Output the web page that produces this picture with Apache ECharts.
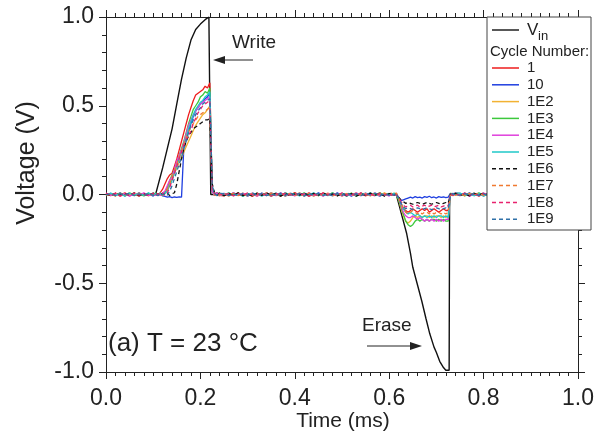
<!DOCTYPE html>
<html><head><meta charset="utf-8">
<script src="https://cdn.jsdelivr.net/npm/echarts@6/dist/echarts.min.js"></script>
<style>html,body{margin:0;padding:0;background:#fff}#c{width:601px;height:435px}</style>
</head><body><div id="c"></div>
<script>
// ---- time grid (ms) shared by the response curves ----
const T = [
 0,0.01,0.02,0.03,0.04,0.05,0.06,0.07,0.08,0.09,0.10,
 0.105,0.11,0.115,0.12,0.125,0.13,0.135,0.14,0.145,0.15,0.155,0.16,0.165,0.17,0.175,0.18,0.185,0.19,0.195,0.20,0.205,0.21,0.215,0.22,0.225,0.23,0.235,0.24,
 0.25,0.26,0.27,0.28,0.29,0.30,0.31,0.32,0.33,0.34,0.35,0.36,0.37,0.38,0.39,0.40,0.41,0.42,0.43,0.44,0.45,0.46,0.47,0.48,0.49,0.50,0.51,0.52,0.53,0.54,0.55,0.56,0.57,0.58,0.59,0.60,
 0.605,0.61,0.615,0.62,0.625,0.63,0.635,0.64,0.645,0.65,0.655,0.66,0.665,0.67,0.675,0.68,0.685,0.69,0.695,0.70,0.705,0.71,0.715,0.72,0.725,0.73,0.735,0.74,
 0.75,0.76,0.77,0.78,0.79,0.80,0.81,0.82,0.83,0.84,0.85,0.86,0.87,0.88,0.89,0.90,0.91,0.92,0.93,0.94,0.95,0.96,0.97,0.98,0.99,1.00
];

// ---- input voltage V_in ----
const vinT = [0,0.105,0.11,0.115,0.12,0.13,0.14,0.15,0.16,0.17,0.18,0.19,0.20,0.21,0.218,0.221,0.222,
              0.615,0.62,0.625,0.63,0.637,0.645,0.65,0.66,0.669,0.678,0.686,0.695,0.70,0.707,0.715,0.72,0.724,0.727,0.728,1.0];
const vinV = [0,0,0.05,0.1,0.15,0.26,0.37,0.51,0.65,0.77,0.87,0.93,0.96,0.985,1.0,1.0,0,
              0,-0.05,-0.1,-0.15,-0.22,-0.33,-0.41,-0.51,-0.6,-0.7,-0.785,-0.86,-0.89,-0.94,-0.975,-0.99,-1.0,-0.99,0,0];

// ---- cycle-number responses ----
const cycles = ['1','10','1E2','1E3','1E4','1E5','1E6','1E7','1E8','1E9'];

const s1 = [
 0.004,-0.006,0.008,-0.003,0.01,-0.008,0.005,-0.01,0.007,-0.004,0.006,
 0.005,0.0,0.01,0.03,0.06,0.09,0.11,0.12,0.16,0.2,0.25,0.3,0.35,0.4,0.45,0.49,0.53,0.56,0.57,0.58,0.59,0.61,0.6,0.63,0.02,0.0,0.01,-0.005,
 -0.008,0.006,-0.004,0.01,-0.007,0.005,-0.011,0.008,-0.003,0.009,-0.006,0.004,-0.009,0.007,-0.005,0.011,-0.004,0.006,-0.01,0.005,-0.007,0.009,-0.003,0.008,-0.006,0.004,-0.01,0.007,-0.005,0.009,-0.008,0.006,-0.004,0.01,-0.006,0.003,
 0.005,-0.004,0.008,-0.02,-0.05,-0.08,-0.09,-0.1,-0.09,-0.08,-0.09,-0.1,-0.09,-0.08,-0.09,-0.08,-0.1,-0.09,-0.08,-0.09,-0.1,-0.09,-0.08,-0.09,-0.09,0.005,-0.006,0.008,
 -0.005,0.008,-0.007,0.004,-0.01,0.006,-0.004,0.009,-0.006,0.005,-0.009,0.007,-0.003,0.01,-0.006,0.004,-0.008,0.006,-0.005,0.009,-0.004,0.007,-0.009,0.005,-0.006,0.004
];
const s10 = [
 -0.005,0.007,-0.003,0.009,-0.008,0.004,-0.006,0.01,-0.004,0.006,-0.009,
 0.004,-0.006,0.003,-0.008,-0.01,-0.015,-0.012,-0.018,-0.014,-0.016,-0.013,-0.015,0.27,0.32,0.36,0.4,0.44,0.47,0.49,0.51,0.52,0.54,0.55,0.57,0.02,-0.005,0.008,-0.004,
 0.007,-0.005,0.009,-0.004,0.006,-0.01,0.005,-0.007,0.008,-0.003,0.01,-0.006,0.004,-0.009,0.007,-0.005,0.008,-0.003,0.006,-0.008,0.01,-0.004,0.005,-0.007,0.009,-0.006,0.003,-0.009,0.007,-0.004,0.008,-0.006,0.005,-0.01,0.006,-0.003,
 -0.004,0.006,-0.003,-0.02,-0.035,-0.03,-0.025,-0.02,-0.015,-0.02,-0.012,-0.018,-0.015,-0.02,-0.012,-0.016,-0.01,-0.018,-0.014,-0.02,-0.012,-0.016,-0.014,-0.018,-0.015,0.006,-0.005,0.007,
 0.006,-0.004,0.009,-0.006,0.005,-0.008,0.007,-0.003,0.01,-0.005,0.004,-0.009,0.006,-0.004,0.008,-0.007,0.005,-0.003,0.009,-0.006,0.004,-0.008,0.007,-0.005,0.006,-0.004
];
const s1E2 = [
 0.006,-0.004,0.005,-0.009,0.007,-0.003,0.01,-0.006,0.004,-0.008,0.005,
 -0.004,0.006,-0.003,0.0,0.01,0.03,0.06,0.09,0.12,0.15,0.18,0.21,0.24,0.27,0.3,0.33,0.36,0.39,0.41,0.43,0.45,0.46,0.48,0.5,0.03,-0.006,0.005,-0.008,
 0.005,-0.009,0.006,-0.004,0.008,-0.006,0.003,-0.01,0.007,-0.005,0.009,-0.003,0.006,-0.008,0.004,-0.006,0.01,-0.004,0.007,-0.009,0.005,-0.003,0.008,-0.006,0.004,-0.01,0.006,-0.005,0.009,-0.004,0.007,-0.008,0.003,-0.006,0.01,-0.005,
 0.007,-0.005,0.004,-0.03,-0.08,-0.12,-0.15,-0.16,-0.15,-0.13,-0.12,-0.13,-0.12,-0.13,-0.12,-0.12,-0.13,-0.12,-0.13,-0.12,-0.12,-0.13,-0.12,-0.13,-0.12,0.004,-0.007,0.005,
 -0.007,0.005,-0.004,0.008,-0.006,0.003,-0.01,0.006,-0.005,0.009,-0.004,0.007,-0.008,0.005,-0.003,0.009,-0.006,0.004,-0.009,0.006,-0.005,0.008,-0.004,0.006,-0.007,0.005
];
const s1E3 = [
 -0.007,0.005,-0.004,0.008,-0.006,0.01,-0.005,0.003,-0.008,0.006,-0.004,
 0.008,-0.004,0.006,-0.005,0.01,0.04,0.08,0.11,0.14,0.18,0.22,0.26,0.3,0.35,0.4,0.44,0.48,0.5,0.52,0.55,0.56,0.58,0.57,0.6,0.03,0.008,-0.006,0.01,
 -0.006,0.009,-0.004,0.007,-0.01,0.005,-0.006,0.008,-0.003,0.006,-0.009,0.004,-0.007,0.01,-0.005,0.006,-0.004,0.009,-0.008,0.005,-0.006,0.007,-0.003,0.01,-0.007,0.005,-0.004,0.008,-0.009,0.006,-0.005,0.007,-0.004,0.009,-0.006,0.004,
 -0.006,0.008,-0.004,-0.03,-0.07,-0.11,-0.15,-0.17,-0.18,-0.17,-0.15,-0.14,-0.15,-0.14,-0.15,-0.14,-0.15,-0.14,-0.14,-0.15,-0.14,-0.15,-0.14,-0.15,-0.15,0.008,-0.005,0.007,
 0.005,-0.008,0.006,-0.004,0.009,-0.005,0.007,-0.01,0.004,-0.006,0.008,-0.003,0.006,-0.009,0.005,-0.004,0.007,-0.006,0.01,-0.005,0.004,-0.008,0.006,-0.003,0.008,-0.005
];
const s1E4 = [
 0.008,-0.005,0.004,-0.007,0.006,-0.01,0.005,-0.004,0.009,-0.006,0.003,
 -0.005,0.004,-0.006,0.008,0.02,0.05,0.08,0.1,0.14,0.19,0.22,0.25,0.29,0.34,0.39,0.42,0.45,0.47,0.49,0.51,0.52,0.53,0.54,0.55,0.02,-0.004,0.007,-0.006,
 0.004,-0.007,0.009,-0.005,0.006,-0.003,0.008,-0.009,0.005,-0.004,0.007,-0.006,0.01,-0.005,0.003,-0.008,0.006,-0.004,0.009,-0.006,0.005,-0.01,0.007,-0.003,0.006,-0.008,0.004,-0.005,0.009,-0.007,0.005,-0.004,0.008,-0.006,0.003,-0.009,
 0.005,-0.006,0.004,-0.02,-0.06,-0.1,-0.12,-0.13,-0.13,-0.12,-0.13,-0.14,-0.13,-0.14,-0.15,-0.14,-0.15,-0.14,-0.15,-0.14,-0.15,-0.14,-0.15,-0.14,-0.14,0.005,-0.004,0.008,
 -0.004,0.007,-0.009,0.005,-0.006,0.008,-0.003,0.006,-0.008,0.004,-0.005,0.009,-0.007,0.005,-0.004,0.008,-0.006,0.003,-0.009,0.006,-0.005,0.007,-0.004,0.009,-0.006,0.004
];
const s1E5 = [
 -0.004,0.008,-0.006,0.005,-0.009,0.006,-0.003,0.007,-0.005,0.01,-0.006,
 0.006,-0.005,0.008,-0.004,0.006,0.02,0.05,0.08,0.12,0.16,0.2,0.24,0.28,0.32,0.37,0.41,0.45,0.48,0.5,0.52,0.53,0.55,0.56,0.58,0.04,0.006,-0.007,0.005,
 -0.005,0.008,-0.006,0.004,-0.009,0.007,-0.004,0.006,-0.01,0.005,-0.003,0.008,-0.006,0.009,-0.004,0.005,-0.008,0.006,-0.003,0.01,-0.005,0.004,-0.007,0.008,-0.005,0.006,-0.009,0.004,-0.006,0.007,-0.003,0.009,-0.007,0.005,-0.004,0.006,
 -0.005,0.007,-0.003,-0.02,-0.05,-0.08,-0.1,-0.11,-0.1,-0.11,-0.12,-0.11,-0.12,-0.13,-0.12,-0.13,-0.12,-0.13,-0.12,-0.13,-0.12,-0.12,-0.13,-0.12,-0.13,0.006,-0.004,0.005,
 0.008,-0.005,0.004,-0.007,0.006,-0.009,0.005,-0.004,0.008,-0.006,0.003,-0.01,0.006,-0.005,0.009,-0.004,0.005,-0.007,0.008,-0.003,0.006,-0.009,0.005,-0.004,0.007,-0.006
];
const s1E6 = [
 0.005,-0.008,0.007,-0.004,0.006,-0.005,0.009,-0.007,0.004,-0.006,0.008,
 -0.004,0.006,-0.005,0.007,-0.003,0.005,-0.006,0.004,0.01,0.06,0.13,0.2,0.26,0.3,0.33,0.35,0.37,0.38,0.39,0.4,0.41,0.42,0.42,0.43,0.06,0.01,-0.006,0.008,
 -0.007,0.005,-0.004,0.009,-0.006,0.003,-0.008,0.006,-0.005,0.01,-0.004,0.007,-0.009,0.005,-0.006,0.004,-0.003,0.008,-0.007,0.006,-0.004,0.009,-0.005,0.003,-0.008,0.007,-0.006,0.005,-0.01,0.004,-0.005,0.008,-0.003,0.006,-0.009,0.005,
 0.006,-0.004,0.005,-0.015,-0.03,-0.04,-0.05,-0.045,-0.05,-0.055,-0.05,-0.045,-0.05,-0.055,-0.05,-0.045,-0.05,-0.055,-0.05,-0.045,-0.05,-0.055,-0.05,-0.045,-0.05,0.004,-0.006,0.007,
 -0.006,0.004,-0.008,0.006,-0.003,0.009,-0.005,0.007,-0.004,0.005,-0.009,0.006,-0.004,0.008,-0.006,0.003,-0.007,0.009,-0.005,0.004,-0.008,0.006,-0.003,0.007,-0.005,0.005
];
const s1E7 = [
 -0.006,0.004,-0.009,0.007,-0.005,0.006,-0.004,0.008,-0.007,0.005,-0.003,
 0.007,-0.004,0.005,-0.006,0.01,0.03,0.06,0.1,0.13,0.17,0.21,0.24,0.28,0.32,0.35,0.38,0.4,0.42,0.44,0.45,0.46,0.47,0.48,0.49,0.04,-0.005,0.006,-0.004,
 0.006,-0.005,0.008,-0.007,0.004,-0.009,0.006,-0.003,0.007,-0.006,0.005,-0.004,0.01,-0.007,0.006,-0.005,0.003,-0.008,0.009,-0.004,0.006,-0.006,0.004,-0.009,0.007,-0.003,0.005,-0.007,0.008,-0.005,0.004,-0.006,0.009,-0.004,0.006,-0.008,
 0.004,-0.006,0.007,-0.02,-0.05,-0.08,-0.1,-0.11,-0.1,-0.09,-0.1,-0.11,-0.1,-0.11,-0.1,-0.1,-0.11,-0.1,-0.11,-0.1,-0.1,-0.11,-0.1,-0.11,-0.1,-0.004,0.006,-0.005,
 0.005,-0.006,0.007,-0.004,0.008,-0.005,0.004,-0.009,0.006,-0.003,0.007,-0.006,0.005,-0.004,0.009,-0.007,0.004,-0.005,0.008,-0.006,0.003,-0.007,0.006,-0.004,0.009,-0.005
];
const s1E8 = [
 0.007,-0.005,0.006,-0.009,0.004,-0.006,0.008,-0.003,0.005,-0.007,0.006,
 -0.006,0.005,-0.004,0.007,-0.005,0.01,0.04,0.08,0.12,0.16,0.2,0.24,0.28,0.31,0.33,0.36,0.4,0.43,0.46,0.48,0.5,0.51,0.52,0.53,0.03,0.007,-0.005,0.006,
 -0.004,0.007,-0.008,0.005,-0.006,0.009,-0.003,0.006,-0.007,0.004,-0.01,0.006,-0.005,0.008,-0.004,0.007,-0.006,0.005,-0.009,0.003,-0.006,0.008,-0.004,0.006,-0.007,0.01,-0.005,0.004,-0.006,0.008,-0.003,0.005,-0.009,0.006,-0.004,0.007,
 -0.005,0.006,-0.004,-0.015,-0.04,-0.06,-0.07,-0.065,-0.06,-0.07,-0.065,-0.06,-0.07,-0.065,-0.06,-0.07,-0.065,-0.06,-0.07,-0.065,-0.06,-0.07,-0.065,-0.06,-0.065,0.006,-0.005,0.004,
 -0.006,0.008,-0.004,0.005,-0.007,0.006,-0.009,0.004,-0.005,0.008,-0.003,0.006,-0.007,0.004,-0.006,0.009,-0.005,0.007,-0.004,0.006,-0.008,0.005,-0.004,0.007,-0.006,0.003
];
const s1E9 = [
 -0.003,0.006,-0.007,0.005,-0.004,0.009,-0.006,0.004,-0.008,0.007,-0.005,
 0.005,-0.007,0.006,-0.003,0.008,-0.004,0.02,0.05,0.09,0.13,0.17,0.21,0.26,0.3,0.35,0.39,0.42,0.45,0.47,0.49,0.51,0.52,0.53,0.54,0.05,0.005,-0.004,0.007,
 0.005,-0.006,0.004,-0.008,0.007,-0.005,0.009,-0.004,0.006,-0.007,0.003,-0.006,0.008,-0.005,0.01,-0.004,0.006,-0.009,0.005,-0.003,0.007,-0.006,0.004,-0.008,0.006,-0.005,0.009,-0.004,0.005,-0.007,0.006,-0.003,0.008,-0.006,0.004,-0.005,
 0.006,-0.005,0.007,-0.02,-0.05,-0.07,-0.08,-0.075,-0.08,-0.085,-0.08,-0.075,-0.08,-0.085,-0.08,-0.075,-0.08,-0.085,-0.08,-0.075,-0.08,-0.085,-0.08,-0.075,-0.08,-0.005,0.007,-0.004,
 -0.004,0.006,-0.005,0.008,-0.007,0.004,-0.006,0.009,-0.003,0.006,-0.008,0.005,-0.004,0.007,-0.006,0.004,-0.009,0.005,-0.006,0.008,-0.004,0.006,-0.005,0.003,-0.007,0.006
];

// ---- tick labels ----
const xTickLabels = ['0.0','0.2','0.4','0.6','0.8','1.0'];
const yTickLabels = ['-1.0','-0.5','0.0','0.5','1.0'];

// ---- styles (kept apart from data) ----
const colors = ['#ee1d1d','#1f3fe0','#f2b233','#3cc83c','#e040dc','#1fc8c8','#111111','#f07a30','#e8226e','#2f70a8'];
const dashed = [false,false,false,false,false,false,true,true,true,true];
const FONT = '"Liberation Sans", Arial, Helvetica, sans-serif';
const INK = '#222';

const allVals = [s1,s10,s1E2,s1E3,s1E4,s1E5,s1E6,s1E7,s1E8,s1E9];
function pairs(ts, vs){ const out=[]; const n=Math.min(ts.length,vs.length); for(let i=0;i<n;i++) out.push([ts[i],vs[i]]); return out; }

const series = [{
  type:'line', name:'Vin', data:pairs(vinT,vinV), symbol:'none', animation:false,
  lineStyle:{color:'#111', width:1.4}, z:2
}];
allVals.forEach((vals,i)=>{
  series.push({type:'line', name:cycles[i], data:pairs(T,vals), symbol:'none', animation:false,
    lineStyle:{color:colors[i], width:1.3, type: dashed[i]?[4,3]:'solid'}, z:3});
});

const xBase = {type:'value', min:0, max:1, interval:0.2, splitLine:{show:false},
  axisLine:{show:true,onZero:false,lineStyle:{color:INK,width:1}},
  axisTick:{show:true,inside:false,length:7,lineStyle:{color:INK}},
  minorTick:{show:true,splitNumber:10,length:4,lineStyle:{color:INK}}, minorSplitLine:{show:false}};
const yBase = {type:'value', min:-1, max:1, interval:0.5, splitLine:{show:false},
  axisLine:{show:true,onZero:false,lineStyle:{color:INK,width:1}},
  axisTick:{show:true,inside:false,length:7,lineStyle:{color:INK}},
  minorTick:{show:true,splitNumber:5,length:4,lineStyle:{color:INK}}, minorSplitLine:{show:false}};

// ---- legend & annotations drawn as graphic elements ----
const g = [];
const LX=487, LY=17, LW=104, LH=213;
g.push({type:'rect', shape:{x:LX,y:LY,width:LW,height:LH}, style:{fill:'#fff',stroke:'#444',lineWidth:1}, z:100});
g.push({type:'line', shape:{x1:492,y1:30,x2:519,y2:30}, style:{stroke:'#111',lineWidth:1.4}, z:101});
g.push({type:'text', x:527, y:30, style:{text:'V', fontSize:17, fontFamily:FONT, fill:INK, verticalAlign:'middle'}, z:101});
g.push({type:'text', x:538, y:36, style:{text:'in', fontSize:13, fontFamily:FONT, fill:INK, verticalAlign:'middle'}, z:101});
g.push({type:'text', x:490, y:52, style:{text:'Cycle Number:', fontSize:15, fontFamily:FONT, fill:INK, verticalAlign:'middle'}, z:101});
cycles.forEach((c,i)=>{
  const y = 68 + i*16.8;
  g.push({type:'line', shape:{x1:492,y1:y,x2:519,y2:y}, style:{stroke:colors[i],lineWidth:1.5,lineDash:dashed[i]?[4,3]:null}, z:101});
  g.push({type:'text', x:527, y:y, style:{text:c, fontSize:15, fontFamily:FONT, fill:INK, verticalAlign:'middle'}, z:101});
});
// Write annotation
g.push({type:'text', x:232, y:43, style:{text:'Write', fontSize:19, fontFamily:FONT, fill:INK, verticalAlign:'middle'}, z:50});
g.push({type:'line', shape:{x1:253,y1:60,x2:222,y2:60}, style:{stroke:INK,lineWidth:1}, z:50});
g.push({type:'polygon', shape:{points:[[213,60],[225,56],[225,64]]}, style:{fill:INK}, z:50});
// Erase annotation
g.push({type:'text', x:362, y:326, style:{text:'Erase', fontSize:19, fontFamily:FONT, fill:INK, verticalAlign:'middle'}, z:50});
g.push({type:'line', shape:{x1:367,y1:346,x2:413,y2:346}, style:{stroke:INK,lineWidth:1}, z:50});
g.push({type:'polygon', shape:{points:[[422,346],[410,342],[410,350]]}, style:{fill:INK}, z:50});
// panel label
g.push({type:'text', x:108, y:344, style:{text:'(a) T = 23 °C', fontSize:26, fontFamily:FONT, fill:INK, verticalAlign:'middle'}, z:50});
// axis titles
g.push({type:'text', x:343, y:421, style:{text:'Time (ms)', fontSize:21, fontFamily:FONT, fill:INK, align:'center', verticalAlign:'middle'}, z:50});
g.push({type:'text', x:27, y:163, rotation:Math.PI/2, style:{text:'Voltage (V)', fontSize:25, fontFamily:FONT, fill:INK, align:'center', verticalAlign:'middle'}, z:50});

const bad = allVals.map((v,i)=>v.length!==T.length?cycles[i]+':'+v.length:null).filter(Boolean);
if (bad.length) g.push({type:'text', x:120, y:250, style:{text:'LEN '+bad.join(' '), fontSize:14, fill:'red'}, z:200});

const chart = echarts.init(document.getElementById('c'), null, {renderer:'canvas'});
chart.setOption({
  animation:false,
  backgroundColor:'#fff',
  grid:{left:106, right:23, top:17, bottom:63, containLabel:false},
  xAxis:[
    Object.assign({}, xBase, {position:'bottom', axisLabel:{fontSize:23, color:INK, fontFamily:FONT, margin:15,
      formatter:(v)=>xTickLabels[Math.round(v/0.2)]}}),
    Object.assign({}, xBase, {position:'top', axisLabel:{show:false}})
  ],
  yAxis:[
    Object.assign({}, yBase, {position:'left', axisLabel:{fontSize:23, color:INK, fontFamily:FONT, margin:12,
      formatter:(v)=>yTickLabels[Math.round((v+1)/0.5)]}}),
    Object.assign({}, yBase, {position:'right', axisLabel:{show:false}})
  ],
  series: series,
  graphic: g
});
</script>
</body></html>
